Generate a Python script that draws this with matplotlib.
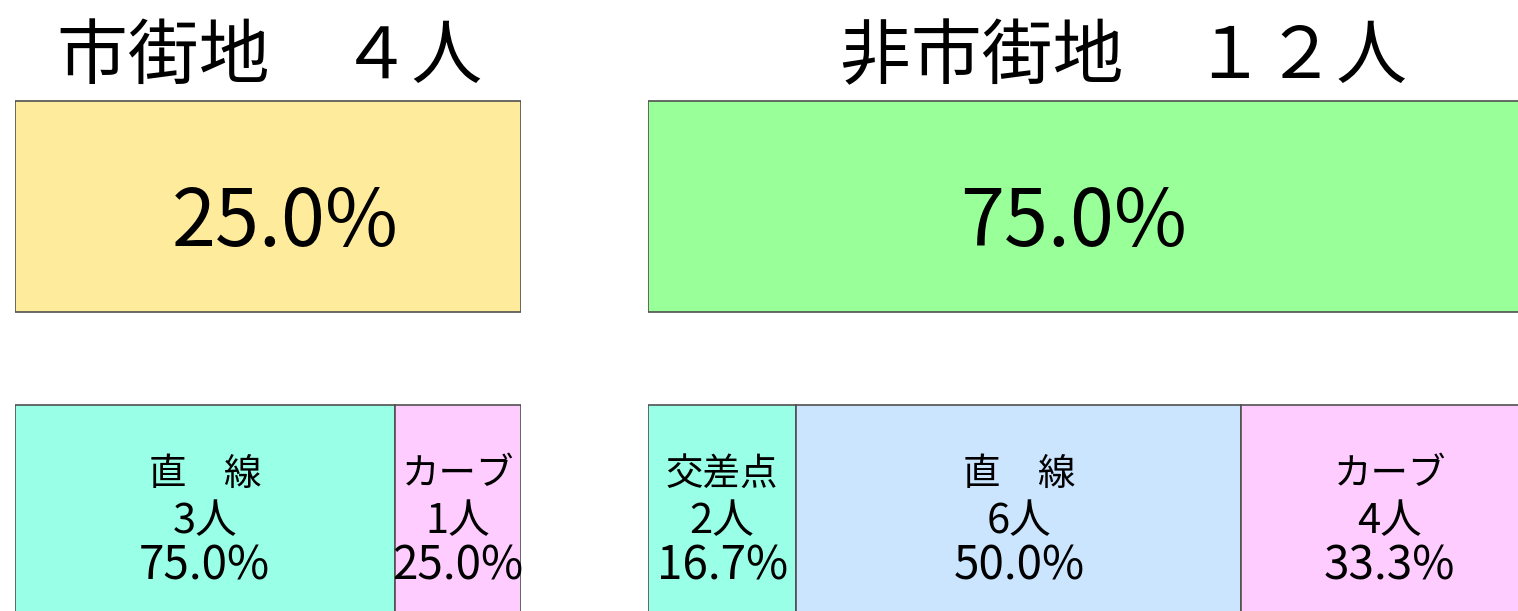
import matplotlib.pyplot as plt

plt.rcParams['font.family'] = ['Noto Sans CJK JP', 'DejaVu Sans']

# data
areas = ['市街地', '非市街地']
area_colors = ['#ffeb9c', '#99ff99']
left_names = ['直　線', 'カーブ']
left_counts = [3, 1]
left_colors = ['#99ffe6', '#ffccff']
right_names = ['交差点', '直　線', 'カーブ']
right_counts = [2, 6, 4]
right_colors = ['#99ffe6', '#cce5ff', '#ffccff']

groups = [(left_names, left_counts, left_colors),
          (right_names, right_counts, right_colors)]
totals = [sum(c) for _, c, _ in groups]
grand = sum(totals)

W, H = 1518, 611
fig = plt.figure(figsize=(W / 100, H / 100), dpi=100)

# axes placement in pixels (left, width)
boxes = [(15, 506), (648, 890)]
title_x = [50.4, 53.4]
share_x = [53.4, 47.8]

zen = str.maketrans('0123456789', '０１２３４５６７８９')
edge = '#505050'

for i, (names, counts, colors) in enumerate(groups):
    px, pw = boxes[i]
    ax = fig.add_axes([px / W, 0, pw / W, 1])
    ax.set_xlim(0, 100)
    ax.set_ylim(1.3306, -0.6793)
    ax.axis('off')

    # top box: group share of all
    share = totals[i] / grand * 100
    ax.barh(0, 100, height=0.694, color=area_colors[i], edgecolor=edge, linewidth=1.2)
    ax.text(share_x[i], 0.055, f'{share:.1f}%', ha='center', va='center', fontsize=57)
    ax.text(title_x[i], -0.49, areas[i] + '　' + str(totals[i]).translate(zen) + '人',
            ha='center', va='center', fontsize=51)

    # bottom stacked box
    left = 0
    for name, c, col in zip(names, counts, colors):
        pct = c / totals[i] * 100
        ax.barh(1, pct, left=left, height=0.694, color=col, edgecolor=edge, linewidth=1.2)
        cx = left + pct / 2
        ax.text(cx, 0.882, name, ha='center', va='center', fontsize=27)
        ax.text(cx, 1.035, f'{c}人', ha='center', va='center', fontsize=30)
        ax.text(cx, 1.182, f'{pct:.1f}%', ha='center', va='center', fontsize=33)
        left += pct

fig.savefig('out.png', dpi=100)
